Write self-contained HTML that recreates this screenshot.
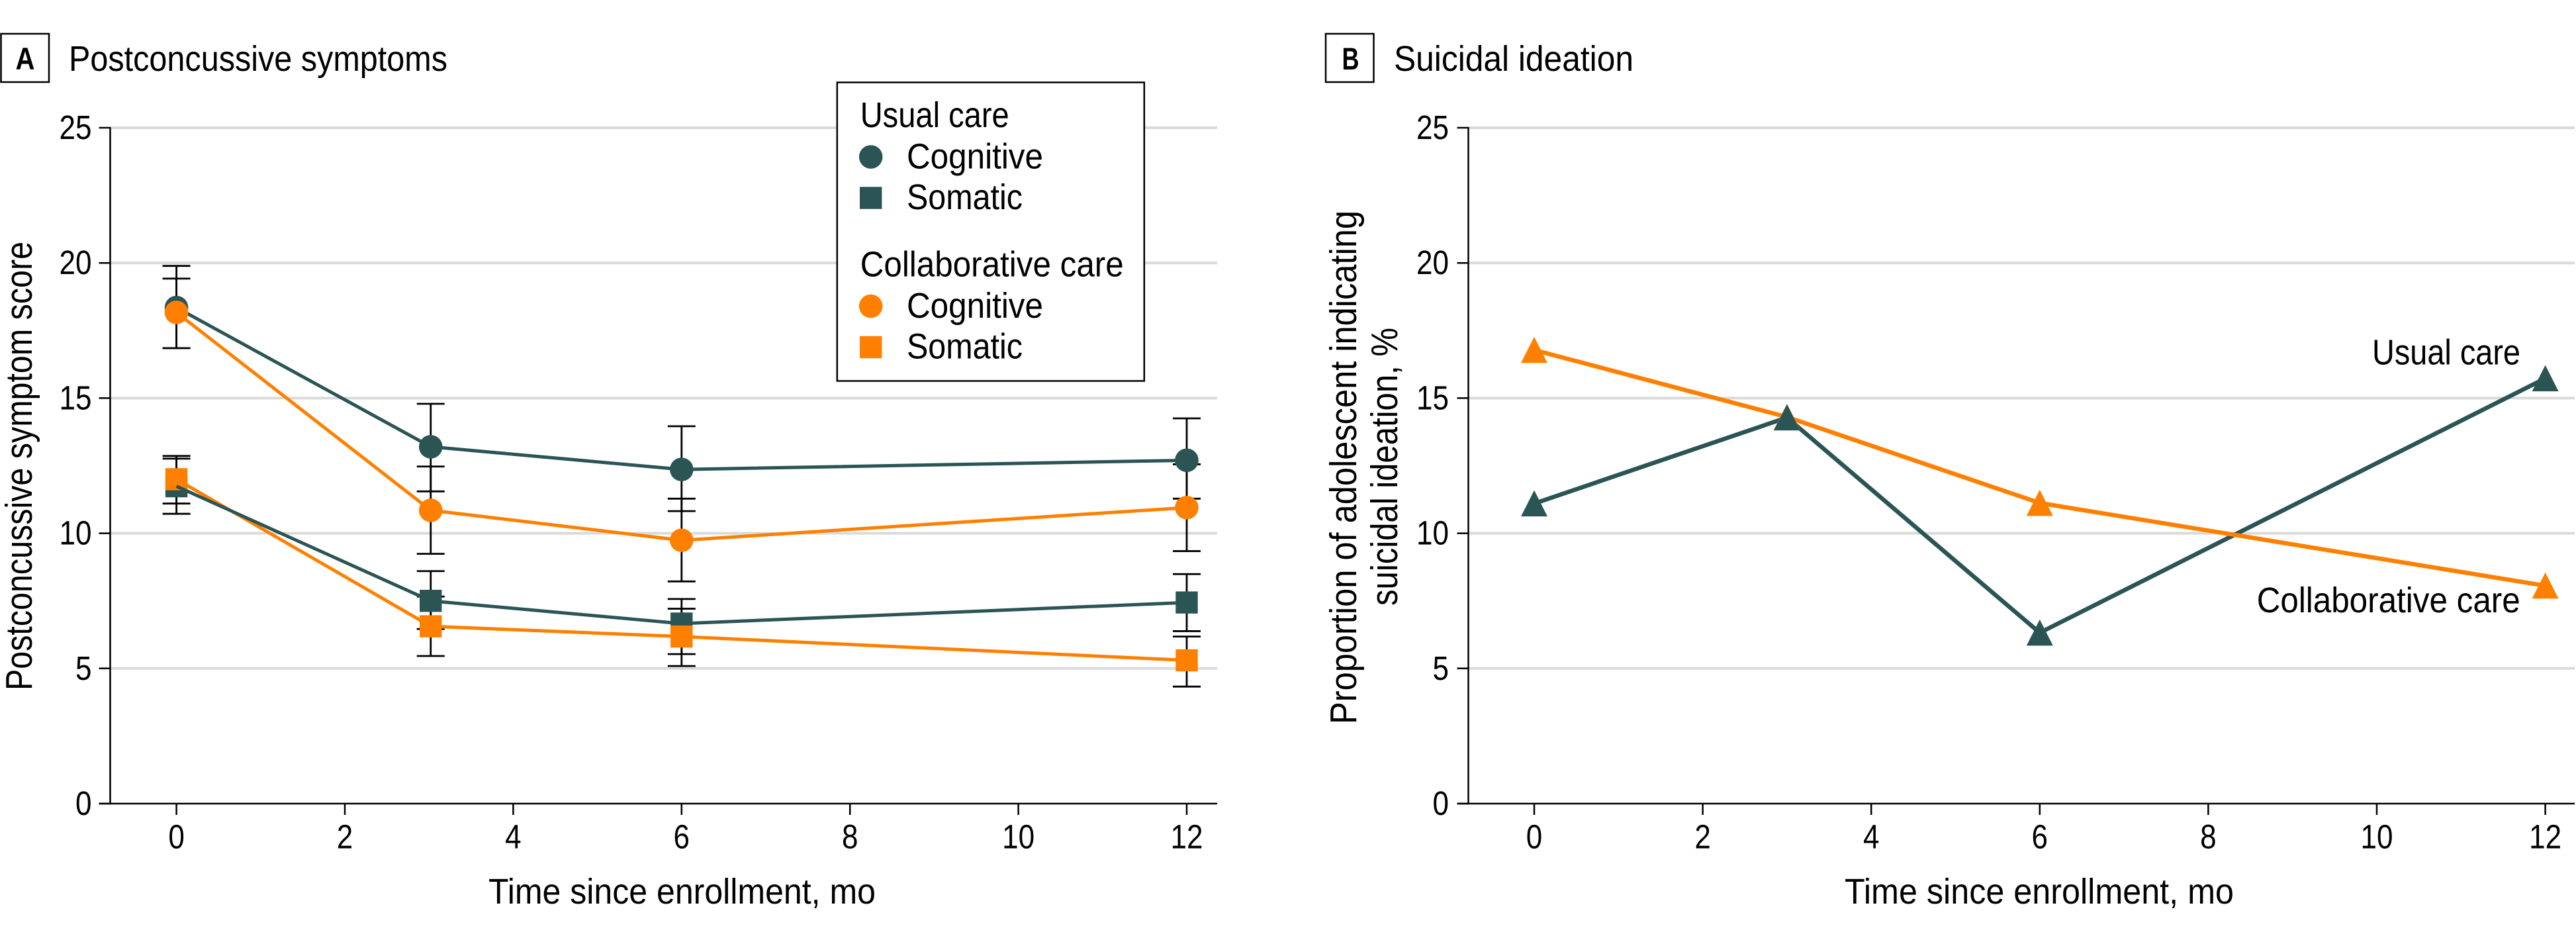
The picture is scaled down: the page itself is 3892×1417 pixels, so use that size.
<!DOCTYPE html>
<html lang="en">
<head>
<meta charset="utf-8">
<title>Postconcussive symptoms and suicidal ideation</title>
<style>
html,body{margin:0;padding:0;background:#fff;width:3892px;height:1417px;overflow:hidden}
svg{display:block}
text{font-family:"Liberation Sans",sans-serif;fill:#000}
</style>
</head>
<body>
<svg id="figure" xmlns="http://www.w3.org/2000/svg" width="3892" height="1417" viewBox="0 0 3892 1417">
  <rect width="3892" height="1417" fill="#fff"/>
  <g id="panelA">
    <rect x="1.5" y="51" width="72.5" height="73" fill="#fff" stroke="#000" stroke-width="2.5"/>
    <text x="38" y="105" font-size="47" font-weight="700" text-anchor="middle" textLength="29" lengthAdjust="spacingAndGlyphs">A</text>
    <text x="104" y="107" font-size="54" textLength="572" lengthAdjust="spacingAndGlyphs">Postconcussive symptoms</text>
    <text transform="translate(47.8 1043) rotate(-90)" font-size="57" textLength="678" lengthAdjust="spacingAndGlyphs">Postconcussive symptom score</text>
    <text x="738" y="1365" font-size="54" textLength="585" lengthAdjust="spacingAndGlyphs">Time since enrollment, mo</text>
  </g>
  <g id="panelB">
    <rect x="2003" y="51" width="72.5" height="73" fill="#fff" stroke="#000" stroke-width="2.5"/>
    <text x="2040.5" y="105" font-size="47" font-weight="700" text-anchor="middle" textLength="26" lengthAdjust="spacingAndGlyphs">B</text>
    <text x="2106" y="107" font-size="54" textLength="362" lengthAdjust="spacingAndGlyphs">Suicidal ideation</text>
    <text transform="translate(2049 1094) rotate(-90)" font-size="57" textLength="776" lengthAdjust="spacingAndGlyphs">Proportion of adolescent indicating</text>
    <text transform="translate(2110.8 915) rotate(-90)" font-size="57" textLength="420" lengthAdjust="spacingAndGlyphs">suicidal ideation, %</text>
    <text x="2787" y="1365" font-size="54" textLength="588" lengthAdjust="spacingAndGlyphs">Time since enrollment, mo</text>
  </g>
</svg>
<script>
// Shared axis ticks
const yTickLabels = [0, 5, 10, 15, 20, 25];
const xTickLabels = [0, 2, 4, 6, 8, 10, 12];

// Panel A: months and series values
const monthsA = [0, 3.02, 6, 12];
const usualCognitive = [18.35, 13.2, 12.36, 12.7];
const usualCognitiveLow = [16.85, 11.55, 10.82, 11.28];
const usualCognitiveHigh = [19.89, 14.79, 13.96, 14.25];
const usualSomatic = [11.74, 7.5, 6.66, 7.44];
const usualSomaticLow = [10.72, 6.46, 5.53, 6.38];
const usualSomaticHigh = [12.76, 8.6, 7.57, 8.49];
const collabCognitive = [18.17, 10.85, 9.74, 10.95];
const collabCognitiveLow = [16.85, 9.24, 8.22, 9.34];
const collabCognitiveHigh = [19.42, 12.47, 11.28, 12.55];
const collabSomatic = [12.0, 6.56, 6.18, 5.3];
const collabSomaticLow = [11.1, 5.46, 5.09, 4.33];
const collabSomaticHigh = [12.86, 7.66, 7.21, 6.18];

// Panel B: months and series values
const monthsB = [0, 3, 6, 12];
const usualIdeation = [11.1, 14.28, 6.32, 15.73];
const collabIdeation = [16.78, 14.3, 11.12, 8.06];

const DARK = '#2b5455';
const ORANGE = '#ff8000';
const NS = 'http://www.w3.org/2000/svg';
const panelA = document.getElementById('panelA');
const panelB = document.getElementById('panelB');

function mk(parent, tag, attrs, txt) {
  const el = document.createElementNS(NS, tag);
  for (const k in attrs) el.setAttribute(k, attrs[k]);
  if (txt !== undefined) el.textContent = txt;
  parent.appendChild(el);
  return el;
}
const yScale = v => 1214 - v * 40.84;
const xScaleA = v => 266.6 + v * 127.2;
const xScaleB = v => 2318 + v * 127.3;

function drawAxes(parent, prefix, xScale, axisX, endX, labelRight) {
  yTickLabels.forEach(t => {
    const y = yScale(t);
    if (t > 0) {
      const grid = mk(parent, 'line', {x1: axisX, x2: endX, y1: y, y2: y, stroke: '#dadada', 'stroke-width': 4});
      
      
    }
    const tick = mk(parent, 'line', {x1: axisX - 17, x2: axisX, y1: y, y2: y, stroke: '#000', 'stroke-width': 2.5});
    
    
    const s = String(t);
    const label = mk(parent, 'text', {x: labelRight, y: y + 17, 'font-size': 51, 'text-anchor': 'end', textLength: 24.5 * s.length, lengthAdjust: 'spacingAndGlyphs'}, s);
    
    
  });
  xTickLabels.forEach(t => {
    const x = xScale(t);
    const tick = mk(parent, 'line', {x1: x, x2: x, y1: 1214, y2: 1231, stroke: '#000', 'stroke-width': 2.5});
    
    
    const s = String(t);
    const label = mk(parent, 'text', {x: x, y: 1281.5, 'font-size': 51, 'text-anchor': 'middle', textLength: 24.5 * s.length, lengthAdjust: 'spacingAndGlyphs'}, s);
    
    
  });
  const yAxis = mk(parent, 'line', {x1: axisX, x2: axisX, y1: yScale(25) - 1, y2: 1215.2, stroke: '#000', 'stroke-width': 2.5});
  
  
  const xAxis = mk(parent, 'line', {x1: axisX - 17, x2: endX, y1: 1214, y2: 1214, stroke: '#000', 'stroke-width': 2.5});
  
  
}

function drawLine(parent, name, xs, ys, xScale, color, width) {
  const pts = xs.map((x, i) => xScale(x) + ',' + yScale(ys[i])).join(' ');
  const line = mk(parent, 'polyline', {points: pts, fill: 'none', stroke: color, 'stroke-width': width, 'stroke-linejoin': 'round'});
  
  
}
function drawErrors(parent, name, xs, lows, highs, xScale) {
  xs.forEach((x, i) => {
    const px = xScale(x);
    const g = mk(parent, 'path', {
      d: 'M' + (px - 21) + ' ' + yScale(highs[i]) + 'H' + (px + 21) +
         'M' + px + ' ' + yScale(highs[i]) + 'V' + yScale(lows[i]) +
         'M' + (px - 21) + ' ' + yScale(lows[i]) + 'H' + (px + 21),
      fill: 'none', stroke: '#000', 'stroke-width': 2.8});
    
    
  });
}
function circle(parent, cx, cy, color) {
  return mk(parent, 'circle', {cx: cx, cy: cy, r: 17.8, fill: color});
}
function square(parent, cx, cy, color) {
  return mk(parent, 'rect', {x: cx - 16.7, y: cy - 16.7, width: 33.4, height: 33.4, fill: color});
}
function triangle(parent, cx, cy, color) {
  return mk(parent, 'polygon', {points: (cx - 20) + ',' + (cy + 19.5) + ' ' + (cx + 20) + ',' + (cy + 19.5) + ' ' + cx + ',' + (cy - 20), fill: color});
}
function drawMarkers(parent, name, shape, xs, ys, xScale, color) {
  xs.forEach((x, i) => {
    const m = shape(parent, xScale(x), yScale(ys[i]), color);
    
    
  });
}

/* ---------- Panel A ---------- */
drawAxes(panelA, 'panel-a', xScaleA, 166.5, 1839, 138.5);

drawErrors(panelA, 'usual-cognitive', monthsA, usualCognitiveLow, usualCognitiveHigh, xScaleA);
drawErrors(panelA, 'collab-cognitive', monthsA, collabCognitiveLow, collabCognitiveHigh, xScaleA);
drawErrors(panelA, 'usual-somatic', monthsA, usualSomaticLow, usualSomaticHigh, xScaleA);
drawErrors(panelA, 'collab-somatic', monthsA, collabSomaticLow, collabSomaticHigh, xScaleA);

drawLine(panelA, 'usual-cognitive', monthsA, usualCognitive, xScaleA, DARK, 5);
drawMarkers(panelA, 'usual-cognitive', circle, monthsA, usualCognitive, xScaleA, DARK);
drawLine(panelA, 'collab-cognitive', monthsA, collabCognitive, xScaleA, ORANGE, 5);
drawMarkers(panelA, 'collab-cognitive', circle, monthsA, collabCognitive, xScaleA, ORANGE);
drawMarkers(panelA, 'usual-somatic', square, monthsA, usualSomatic, xScaleA, DARK);
drawLine(panelA, 'collab-somatic', monthsA, collabSomatic, xScaleA, ORANGE, 5);
drawMarkers(panelA, 'collab-somatic', square, monthsA, collabSomatic, xScaleA, ORANGE);
drawLine(panelA, 'usual-somatic', monthsA, usualSomatic, xScaleA, DARK, 5);

/* Legend */
const legend = mk(panelA, 'g', {});


const legendBox = mk(legend, 'rect', {x: 1264.8, y: 124.5, width: 464, height: 451, fill: '#fff', stroke: '#000', 'stroke-width': 2.5});



const legendHead1 = mk(legend, 'text', {x: 1299.7, y: 192, 'font-size': 54, textLength: 225, lengthAdjust: 'spacingAndGlyphs'}, 'Usual care');


const legendCircle1 = circle(legend, 1315.7, 237, DARK);


const legendText1 = mk(legend, 'text', {x: 1370, y: 254.5, 'font-size': 54, textLength: 206, lengthAdjust: 'spacingAndGlyphs'}, 'Cognitive');


const legendSquare1 = square(legend, 1315.7, 299, DARK);


const legendText2 = mk(legend, 'text', {x: 1370, y: 316, 'font-size': 54, textLength: 175, lengthAdjust: 'spacingAndGlyphs'}, 'Somatic');



const legendHead2 = mk(legend, 'text', {x: 1299.7, y: 417.4, 'font-size': 54, textLength: 398, lengthAdjust: 'spacingAndGlyphs'}, 'Collaborative care');


const legendCircle2 = circle(legend, 1315.7, 462.5, ORANGE);


const legendText3 = mk(legend, 'text', {x: 1370, y: 480, 'font-size': 54, textLength: 206, lengthAdjust: 'spacingAndGlyphs'}, 'Cognitive');


const legendSquare2 = square(legend, 1315.7, 524.5, ORANGE);


const legendText4 = mk(legend, 'text', {x: 1370, y: 541.5, 'font-size': 54, textLength: 175, lengthAdjust: 'spacingAndGlyphs'}, 'Somatic');



/* ---------- Panel B ---------- */
drawAxes(panelB, 'panel-b', xScaleB, 2218.5, 3890, 2189);

drawLine(panelB, 'usual-care-ideation', monthsB, usualIdeation, xScaleB, DARK, 6.5);
drawLine(panelB, 'collaborative-care-ideation', monthsB, collabIdeation, xScaleB, ORANGE, 6.5);
drawMarkers(panelB, 'collaborative-care-ideation', triangle, monthsB, collabIdeation, xScaleB, ORANGE);
drawMarkers(panelB, 'usual-care-ideation', triangle, monthsB, usualIdeation, xScaleB, DARK);

const annotUsual = mk(panelB, 'text', {x: 3584, y: 550.5, 'font-size': 54, textLength: 224, lengthAdjust: 'spacingAndGlyphs'}, 'Usual care');


const annotCollab = mk(panelB, 'text', {x: 3409.7, y: 925, 'font-size': 54, textLength: 398, lengthAdjust: 'spacingAndGlyphs'}, 'Collaborative care');


</script>
</body>
</html>
